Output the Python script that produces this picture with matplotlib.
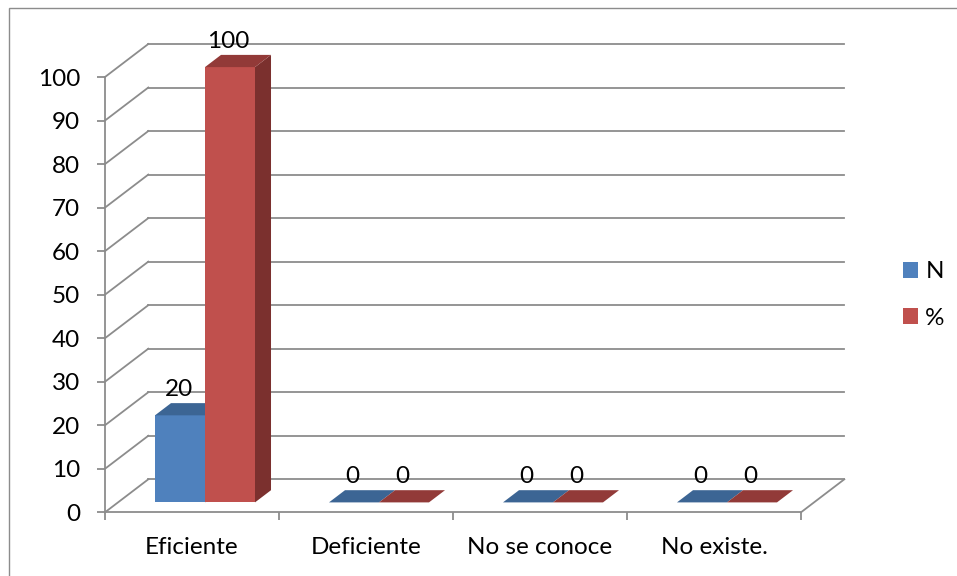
import matplotlib
matplotlib.use("Agg")
import matplotlib.pyplot as plt
from matplotlib.patches import Polygon, Patch, Rectangle
from matplotlib.lines import Line2D

plt.rcParams['font.family'] = ['Lato', 'DejaVu Sans']

# Data
categories = ["Eficiente", "Deficiente", "No se conoce", "No existe."]
series_names = ["N", "%"]
values_n = [20, 0, 0, 0]
values_pct = [100, 0, 0, 0]
y_ticks = list(range(0, 101, 10))

# Styling
GRID = "#8c8c8c"
FONT_SIZE = 17.5
face_colors = ["#4f81bd", "#c0504d"]
top_colors = ["#3c6594", "#923a38"]
side_colors = ["#355a85", "#7b302e"]

W, H = 957, 576
fig = plt.figure(figsize=(W / 100, H / 100), dpi=100)
# front plane of the plot box in pixel space
x0_px, x1_px = 105, 801
y0_px, y1_px = 512.3, 77.0
ax = fig.add_axes([x0_px / W, (H - y0_px) / H, (x1_px - x0_px) / W, (y0_px - y1_px) / H])
ax.set_xlim(0, len(categories))
ax.set_ylim(0, 100)
ax.patch.set_visible(False)

# oblique depth: full wall depth shifts right / up by these data amounts
px_per_x = (x1_px - x0_px) / len(categories)
px_per_y = (y0_px - y1_px) / 100
DX = 43.3 / px_per_x
DY = 33.0 / px_per_y


def proj(x, y, d):
    return (x + d * DX, y + d * DY)


# back wall gridlines and left side-wall diagonals
for v in y_ticks:
    bx0, by0 = proj(0, v, 1)
    bx1, by1 = proj(len(categories), v, 1)
    ax.add_line(Line2D([bx0, bx1], [by0, by1], color=GRID, lw=1.3, clip_on=False, zorder=1))
    fx, fy = proj(0, v, 0)
    ax.add_line(Line2D([fx, bx0], [fy, by0], color=GRID, lw=1.3, clip_on=False, zorder=1))
# right floor edge
rx0, ry0 = proj(len(categories), 0, 0)
rx1, ry1 = proj(len(categories), 0, 1)
ax.add_line(Line2D([rx0, rx1], [ry0, ry1], color=GRID, lw=1.3, clip_on=False, zorder=1))

# bars
bar_w = 50 / px_per_x
d_front, d_back = 0.30, 0.67
series = [values_n, values_pct]
for ci in range(len(categories)):
    left0 = ci + 0.5 - bar_w
    for si, vals in enumerate(series):
        v = vals[ci]
        xl = left0 + si * bar_w
        xr = xl + bar_w
        z = 3 + si
        if v > 0:
            front = [proj(xl, 0, d_front), proj(xr, 0, d_front), proj(xr, v, d_front), proj(xl, v, d_front)]
            side = [proj(xr, 0, d_front), proj(xr, 0, d_back), proj(xr, v, d_back), proj(xr, v, d_front)]
            ax.add_patch(Polygon(side, closed=True, fc=side_colors[si], ec="none", clip_on=False, zorder=z))
            ax.add_patch(Polygon(front, closed=True, fc=face_colors[si], ec="none", clip_on=False, zorder=z))
        top = [proj(xl, v, d_front), proj(xr, v, d_front), proj(xr, v, d_back), proj(xl, v, d_back)]
        ax.add_patch(Polygon(top, closed=True, fc=top_colors[si], ec="none", clip_on=False, zorder=z))
        lx, ly = proj((xl + xr) / 2, v, d_front)
        ax.annotate(f"{v}", (lx, ly), xytext=(-1, 19 * 0.72), textcoords="offset points",
                    ha="center", va="baseline", fontsize=FONT_SIZE, color="black",
                    annotation_clip=False, zorder=10)

# axes lines and ticks
for s in ["top", "right"]:
    ax.spines[s].set_visible(False)
for s in ["left", "bottom"]:
    ax.spines[s].set_color(GRID)
    ax.spines[s].set_linewidth(1.3)
    ax.spines[s].set_zorder(2)
ax.set_yticks(y_ticks)
ax.set_yticklabels([str(t) for t in y_ticks])
ax.set_xticks(range(len(categories) + 1))
ax.set_xticklabels([])
ax.tick_params(axis="both", direction="out", length=5.8, width=1.3, color=GRID,
               labelsize=FONT_SIZE, labelcolor="black")
ax.tick_params(axis="y", pad=12)

for ci, name in enumerate(categories):
    ax.annotate(name, (ci + 0.5, 0), xytext=(0, -41.7 * 0.72), textcoords="offset points",
                ha="center", va="baseline", fontsize=FONT_SIZE, color="black",
                annotation_clip=False)

# legend
handles = [Patch(facecolor=c, edgecolor="none") for c in face_colors]
fig.legend(handles, series_names, loc="center left",
           bbox_to_anchor=(903 / W, 1 - 295 / H), frameon=False, fontsize=FONT_SIZE,
           handlelength=0.62, handleheight=0.62, handletextpad=0.3,
           labelspacing=1.05, borderpad=0, borderaxespad=0)

# chart border
fig.add_artist(Rectangle((9 / W, -0.1), 1.2, (H - 8) / H + 0.1, transform=fig.transFigure,
                         fill=False, ec="#8c8c8c", lw=1.0))

fig.savefig("out.png", dpi=100)
